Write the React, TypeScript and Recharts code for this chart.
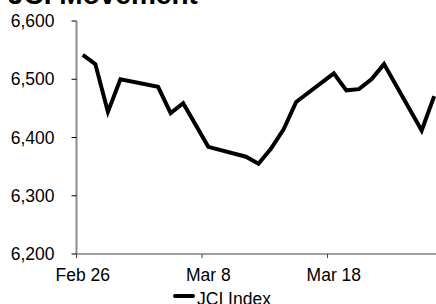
import { LineChart, Line, XAxis, YAxis, Legend } from 'recharts';

// days counted from Feb 26 (trading days only)
const dayOffsets = [0, 1, 2, 3, 6, 7, 8, 10, 13, 14, 15, 16, 17, 20, 21, 22, 23, 24, 27, 28];
const jciValues = [
  6542, 6526, 6444, 6500, 6487, 6442, 6459, 6384, 6367, 6355,
  6381, 6414, 6461, 6510, 6481, 6483, 6500, 6526, 6412, 6471,
];
const xTickDays = [-0.5, 9.5, 19.5];
const xTickLabels = ['Feb 26', 'Mar 8', 'Mar 18'];
const yTicks = [6200, 6300, 6400, 6500, 6600];

const data = dayOffsets.map((d, i) => ({ day: d, jci: jciValues[i] }));

const FONT = '"Liberation Sans", Arial, sans-serif';

const XTick = (props: any) => {
  const { x, y, payload } = props;
  const idx = xTickDays.indexOf(payload.value);
  return (
    <text x={x + 6.3} y={y} dy="0.71em" textAnchor="middle" fontSize={17.5} fill="#000" fontFamily={FONT}>
      {idx >= 0 ? xTickLabels[idx] : ''}
    </text>
  );
};

const LegendContent = () => (
  <div style={{ position: 'relative', width: 120, height: 22, fontFamily: FONT }}>
    <span style={{ position: 'absolute', left: 0, top: 5, width: 22, height: 4, background: '#000', borderRadius: 2 }} />
    <span style={{ position: 'absolute', left: 24, top: 0, fontSize: 17.5, lineHeight: 'normal', color: '#000', whiteSpace: 'nowrap' }}>
      JCI Index
    </span>
  </div>
);

export default function App() {
  return (
    <div style={{ position: 'fixed', top: 0, left: 0, width: 436, height: 304, overflow: 'hidden', background: '#fff', fontFamily: FONT }}>
      <div style={{ position: 'absolute', left: 8, top: -19, fontSize: 28, lineHeight: '28px', fontWeight: 'bold', color: '#000', whiteSpace: 'nowrap' }}>
        JCI Movement
      </div>
      <div style={{ position: 'absolute', left: 0, top: 0 }}>
        <LineChart width={441} height={304} data={data} margin={{ top: 21, right: 0.5, left: 0, bottom: 0 }}>
          <XAxis
            dataKey="day"
            type="number"
            domain={[-0.5, 28.5]}
            ticks={xTickDays}
            interval={0}
            tick={<XTick />}
            tickSize={4}
            tickMargin={11}
            height={50}
            axisLine={{ stroke: '#404040', strokeWidth: 1 }}
            tickLine={{ stroke: '#404040' }}
          />
          <YAxis
            domain={[6200, 6600]}
            ticks={yTicks}
            interval={0}
            width={76.5}
            tickSize={5}
            tickMargin={17}
            tickFormatter={(v: number) => v.toLocaleString('en-US')}
            tick={{ fontSize: 17.5, fill: '#000', fontFamily: FONT }}
            axisLine={{ stroke: '#8c8c8c', strokeWidth: 2 }}
            tickLine={{ stroke: '#000' }}
          />
          <Legend
            layout="horizontal"
            verticalAlign="middle"
            align="center"
            content={<LegendContent />}
            wrapperStyle={{ top: 288.5, left: 173, width: 120 }}
          />
          <Line
            type="linear"
            dataKey="jci"
            name="JCI Index"
            stroke="#000"
            strokeWidth={4}
            dot={false}
            isAnimationActive={false}
          />
        </LineChart>
      </div>
    </div>
  );
}
